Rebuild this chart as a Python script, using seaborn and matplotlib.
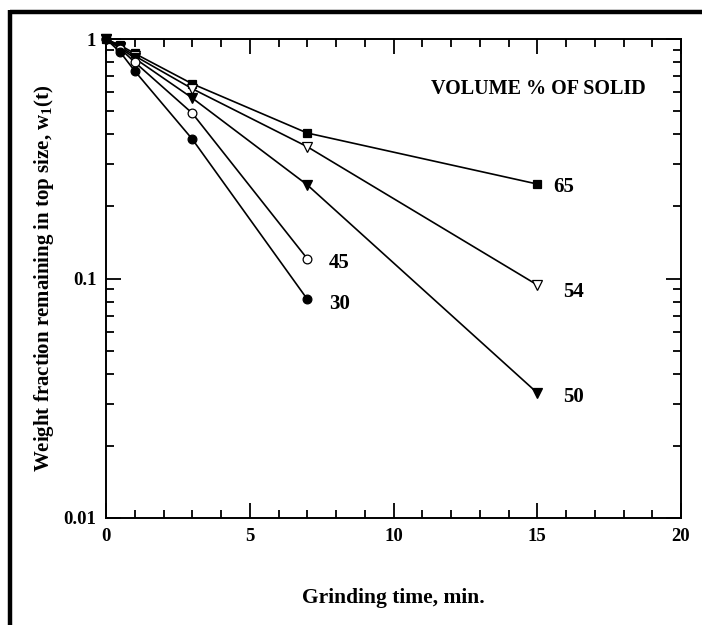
import numpy as np
import pandas as pd
import matplotlib
matplotlib.use("Agg")
import matplotlib.pyplot as plt
from matplotlib.lines import Line2D
from matplotlib.ticker import LogLocator, MultipleLocator, FixedFormatter, FixedLocator, NullFormatter
import seaborn as sns

# Grinding time (min) and weight fraction remaining in the top size, per solids loading
time_short = [0, 0.5, 1, 3, 7]
time_long = [0, 0.5, 1, 3, 7, 15]

w_65 = [1.0, 0.94, 0.87, 0.65, 0.405, 0.248]
w_54 = [1.0, 0.93, 0.85, 0.62, 0.355, 0.094]
w_50 = [1.0, 0.92, 0.83, 0.567, 0.246, 0.0333]
w_45 = [1.0, 0.91, 0.80, 0.49, 0.121]
w_30 = [1.0, 0.88, 0.735, 0.382, 0.082]

series_labels = ["65", "54", "50", "45", "30"]

sns.set_style("ticks")
plt.rcParams["font.family"] = ["Liberation Serif", "DejaVu Serif"]
plt.rcParams["font.weight"] = "bold"
plt.rcParams["text.color"] = "black"
plt.rcParams["axes.labelcolor"] = "black"
plt.rcParams["xtick.color"] = "black"
plt.rcParams["ytick.color"] = "black"
plt.rcParams["mathtext.fontset"] = "custom"
plt.rcParams["mathtext.rm"] = "Liberation Serif:bold"
plt.rcParams["mathtext.it"] = "Liberation Serif:bold"

frames = []
for lab, t, w in [("65", time_long, w_65), ("54", time_long, w_54), ("50", time_long, w_50),
                  ("45", time_short, w_45), ("30", time_short, w_30)]:
    frames.append(pd.DataFrame({"time": t, "w": w, "solid": lab}))
df = pd.concat(frames, ignore_index=True)

fig = plt.figure(figsize=(7.02, 6.25), dpi=100)
ax = fig.add_axes([106 / 702, 1 - 518 / 625, (681 - 106) / 702, (518 - 39) / 625])

styles = {
    "65": dict(marker="s", mfc="black", ms=5.8),
    "54": dict(marker="v", mfc="white", ms=6.5),
    "50": dict(marker="v", mfc="black", ms=6.5),
    "45": dict(marker="o", mfc="white", ms=6.3),
    "30": dict(marker="o", mfc="black", ms=6.3),
}
for lab in series_labels:
    sub = df[df["solid"] == lab]
    st = styles[lab]
    sns.lineplot(data=sub, x="time", y="w", ax=ax, color="black", lw=1.2,
                 marker=st["marker"], markerfacecolor=st["mfc"], markeredgecolor="black",
                 markeredgewidth=0.9, markersize=st["ms"], legend=False, sort=False,
                 estimator=None, clip_on=False, zorder=3)

ax.set_yscale("log")
ax.set_xlim(0, 20)
ax.set_ylim(0.01, 1)

ax.xaxis.set_major_locator(MultipleLocator(5))
ax.xaxis.set_minor_locator(MultipleLocator(1))
ax.yaxis.set_major_locator(FixedLocator([0.01, 0.1, 1]))
ax.yaxis.set_major_formatter(FixedFormatter(["0.01", "0.1", "1"]))
ax.yaxis.set_minor_locator(LogLocator(base=10, subs=np.arange(2, 10)))
ax.yaxis.set_minor_formatter(NullFormatter())

ax.tick_params(which="both", direction="in", top=True, right=True, width=1.3, color="black")
ax.tick_params(which="major", length=11, labelsize=13.5, pad=7)
ax.tick_params(which="minor", length=6)
for lbl in ax.get_xticklabels() + ax.get_yticklabels():
    lbl.set_fontweight("bold")
for sp in ax.spines.values():
    sp.set_linewidth(1.4)
    sp.set_color("black")

ax.set_xlabel("Grinding time, min.", fontsize=15.5, fontweight="bold", labelpad=31)
ax.set_ylabel("Weight fraction remaining in top size, w$_\\mathregular{1}$(t)",
              fontsize=15, fontweight="bold", labelpad=5)

# End-of-line labels for each series
end_points = {"65": (15, w_65[-1]), "54": (15, w_54[-1]), "50": (15, w_50[-1]),
              "45": (7, w_45[-1]), "30": (7, w_30[-1])}
offsets = {"65": (0.55, 0.97), "54": (0.9, 0.93), "50": (0.9, 0.96),
           "45": (0.75, 0.96), "30": (0.75, 0.955)}
for lab in series_labels:
    x0, y0 = end_points[lab]
    dx, fy = offsets[lab]
    ax.text(x0 + dx, y0 * fy, lab, fontsize=15, fontweight="bold", ha="left", va="center")

ax.text(0.752, 0.895, "VOLUME % OF SOLID", transform=ax.transAxes, fontsize=14.5,
        fontweight="bold", ha="center", va="center")

# Heavy frame along the top and left edges of the figure
fig.add_artist(Line2D([10 / 702, 1.0], [1 - 11.5 / 625] * 2, transform=fig.transFigure,
                      color="black", lw=3.2, solid_capstyle="butt"))
fig.add_artist(Line2D([10 / 702] * 2, [0.0, 1 - 10 / 625], transform=fig.transFigure,
                      color="black", lw=3.2, solid_capstyle="butt"))

fig.savefig("out.png", dpi=100, facecolor="white")
